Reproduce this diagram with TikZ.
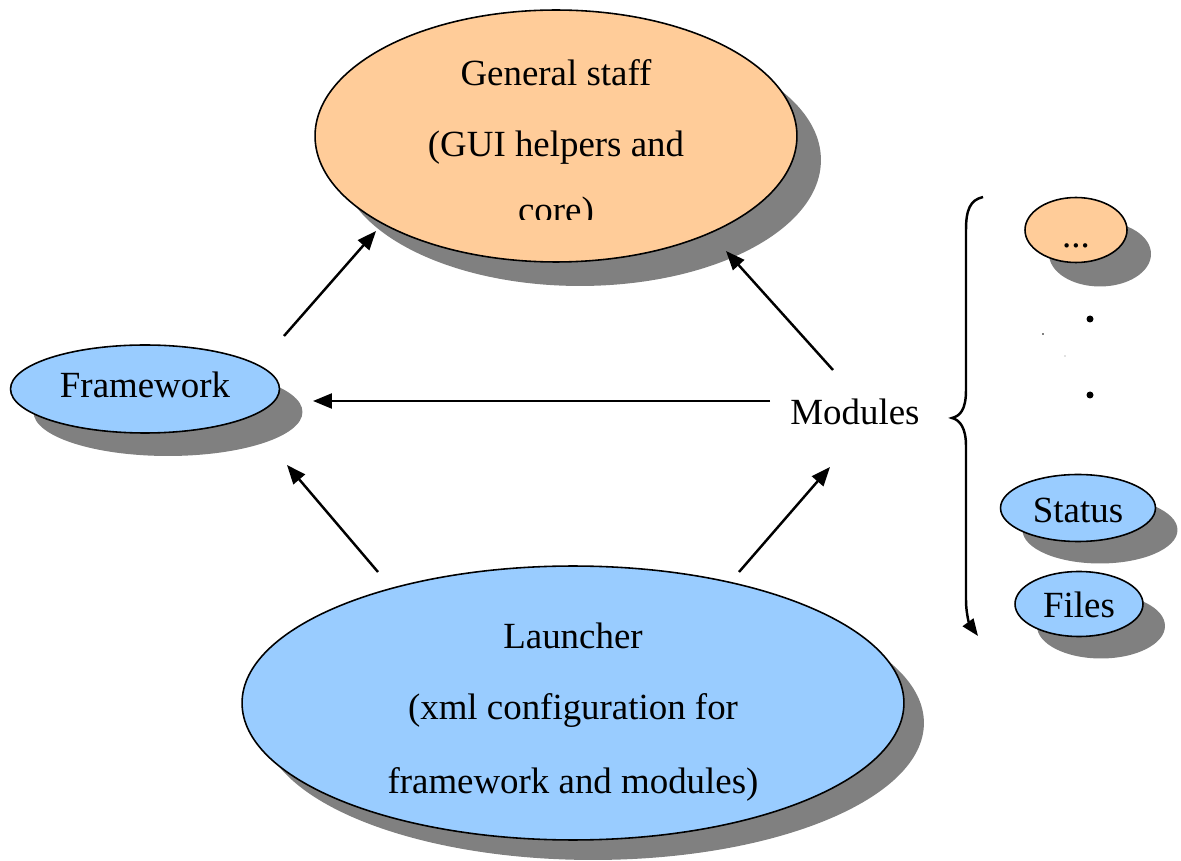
\documentclass[tikz,border=0pt]{standalone}
\usepackage{fontspec}
\setmainfont{Liberation Serif}
\usetikzlibrary{arrows.meta,shapes.geometric,shadows}
\definecolor{peach}{RGB}{255,204,153}
\definecolor{skyblue}{RGB}{153,204,255}
\definecolor{shadowgray}{RGB}{128,128,128}
\tikzset{
  blob/.style={ellipse, draw=black, line width=0.9pt, inner sep=0pt},
  shade/.style={drop shadow={shadow xshift=#1, shadow yshift=-#1, fill=shadowgray, opacity=1}},
  label/.style={font=\fontsize{21}{25}\selectfont, anchor=base, inner sep=0pt},
  link/.style={line width=1.4pt, -{Triangle[length=0.38cm,width=0.3cm]}},
}
\begin{document}
\begin{tikzpicture}[x=0.02cm, y=-0.02cm]
\useasboundingbox (0,0) rectangle (1181,861);

% main components
\node[blob, shade=0.48cm, fill=peach, minimum width=9.64cm, minimum height=5.04cm] (general) at (556,136) {};
\node[blob, shade=0.46cm, fill=skyblue, minimum width=5.38cm, minimum height=1.76cm] (framework) at (145,389) {};
\node[blob, shade=0.4cm, fill=skyblue, minimum width=13.24cm, minimum height=5.48cm] (launcher) at (573,703) {};

% module list
\node[blob, shade=0.48cm, fill=peach, minimum width=2.04cm, minimum height=1.3cm] (more) at (1076,230) {};
\node[blob, shade=0.44cm, fill=skyblue, minimum width=3.1cm, minimum height=1.34cm] (status) at (1078,508) {};
\node[blob, shade=0.44cm, fill=skyblue, minimum width=2.56cm, minimum height=1.3cm] (files) at (1079,604) {};

% texts
\node[label] (g1) at (556,86) {General staff};
\node[label] (g2) at (556,157) {(GUI helpers and};
\begin{scope}
  \clip (300,0) rectangle (820,220);
  \node[label] (g3) at (556,223) {core)};
\end{scope}
\node[label] (fw) at (145,398) {Framework};
\node[label] (l1) at (573,649) {Launcher};
\node[label] (l2) at (573,720) {(xml configuration for};
\node[label] (l3) at (573,793) {framework and modules)};
\node[label] (modules) at (855,425) {Modules};
\node[label] (moretxt) at (1076,248) {...};
\node[label] (st) at (1078,523) {Status};
\node[label] (fi) at (1079,618) {Files};

% ellipsis dots between the module bubbles
\fill (1090,319) circle[radius=0.07cm];
\fill (1090,395) circle[radius=0.07cm];
\fill (1043,334) circle[radius=0.018cm];
\fill[gray] (1065,356) circle[radius=0.012cm];

% arrow end points
\coordinate (fwA) at (284,336);
\coordinate (gsA) at (376,231);
\coordinate (mdA) at (833,370);
\coordinate (gsB) at (726,251);
\coordinate (mdB) at (770,401);
\coordinate (fwB) at (313,401);
\coordinate (lcA) at (378,572);
\coordinate (fwC) at (287,465);
\coordinate (lcB) at (739,572);
\coordinate (mdC) at (830,467);

\draw[link] (fwA) -- (gsA);
\draw[link] (mdA) -- (gsB);
\draw[link] (mdB) -- (fwB);
\draw[link] (lcA) -- (fwC);
\draw[link] (lcB) -- (mdC);

% brace grouping the modules
\coordinate (braceTop) at (983,197);
\coordinate (braceTip) at (952,418);
\coordinate (braceEnd) at (978,636);
\draw[line width=1.4pt, -{Triangle[length=0.34cm,width=0.26cm]}]
  (braceTop) .. controls (970,200) and (966,210) .. (966,230)
  -- (966,390) .. controls (966,410) and (960,416) .. (braceTip)
  .. controls (960,420) and (966,428) .. (966,446)
  -- (966,600) .. controls (966,615) and (970,625) .. (braceEnd);
\end{tikzpicture}
\end{document}
